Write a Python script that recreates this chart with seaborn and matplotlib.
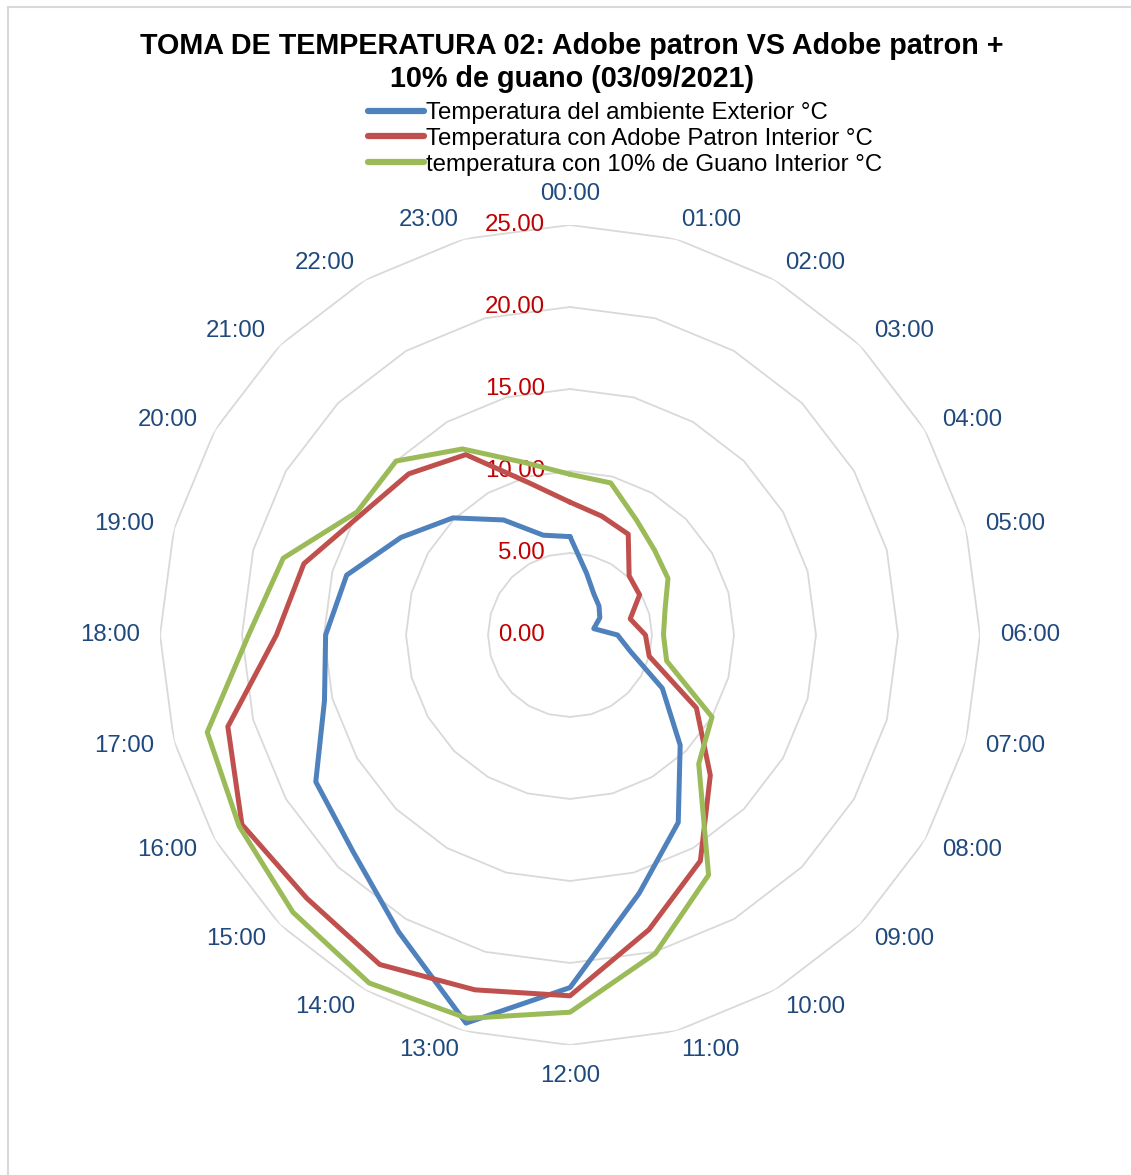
import numpy as np
import pandas as pd
import matplotlib
matplotlib.use("Agg")
import matplotlib.pyplot as plt
import seaborn as sns
from matplotlib.transforms import offset_copy
from matplotlib.lines import Line2D
from matplotlib.patches import Rectangle

# Hourly readings, 00:00 .. 23:00
horas = [f"{h:02d}:00" for h in range(24)]
exterior = [6.0, 3.9, 2.9, 2.5, 2.1, 1.5, 2.9, 3.8, 6.5, 9.5, 13.2, 16.3,
            21.5, 24.5, 20.9, 18.7, 17.9, 15.5, 14.9, 14.1, 11.9, 10.1, 8.1, 6.3]
adobe_patron = [8.1, 7.5, 7.1, 5.1, 4.9, 3.8, 4.6, 5.0, 8.9, 12.1, 15.9, 18.6,
                22.0, 22.4, 23.2, 22.7, 23.1, 21.6, 17.9, 16.8, 14.7, 13.9, 12.7, 9.6]
guano_10 = [9.8, 9.6, 8.1, 7.3, 6.9, 6.0, 5.7, 6.1, 10.0, 11.1, 16.9, 20.1,
            23.0, 24.2, 24.5, 23.9, 23.3, 22.9, 19.6, 18.1, 15.0, 15.0, 13.1, 10.9]

series = ["Temperatura del ambiente Exterior °C",
          "Temperatura con Adobe Patron Interior °C",
          "temperatura con 10% de Guano Interior °C"]
colores = ["#4F81BD", "#C0504D", "#9BBB59"]
niveles = [0, 5, 10, 15, 20, 25]
etiquetas_niveles = ["0.00", "5.00", "10.00", "15.00", "20.00", "25.00"]

titulo = ("TOMA DE TEMPERATURA 02: Adobe patron VS Adobe patron +\n"
          "10% de guano (03/09/2021)")

sns.set_theme(style="white")
plt.rcParams["font.family"] = ["Liberation Sans", "DejaVu Sans"]

W, H = 1131, 1175
fig = plt.figure(figsize=(W / 100, H / 100), dpi=100)
fig.patch.set_facecolor("white")

ax = fig.add_axes([160 / W, 130 / H, 820 / W, 820 / H], projection="polar")
ax.set_theta_zero_location("N")
ax.set_theta_direction(-1)
ax.grid(False)
ax.spines["polar"].set_visible(False)
ax.set_facecolor("white")

angulos = np.arange(len(horas)) * 2 * np.pi / len(horas)
angulos_cerrados = np.append(angulos, 2 * np.pi)

# polygonal value rings
for nivel in niveles[1:]:
    ax.plot(angulos_cerrados, [nivel] * len(angulos_cerrados),
            color="#D9D9D9", lw=1.3, zorder=1)

# long-form table for seaborn, each series closed on itself
filas = []
for nombre, valores in zip(series, [exterior, adobe_patron, guano_10]):
    cerrados = list(valores) + [valores[0]]
    for a, v in zip(angulos_cerrados, cerrados):
        filas.append({"angulo": a, "temperatura": v, "serie": nombre})
df = pd.DataFrame(filas)

sns.lineplot(data=df, x="angulo", y="temperatura", hue="serie",
             hue_order=series, palette=dict(zip(series, colores)),
             sort=False, estimator=None, linewidth=3.6, legend=False,
             ax=ax, zorder=3)

ax.set_ylim(0, 25)
ax.set_xticks([])
ax.set_yticks([])
ax.set_xlabel("")
ax.set_ylabel("")

# hour labels around the outside
r_lab = 25 * 430 / 410
for a, lab in zip(angulos, horas):
    s, c = np.sin(a), np.cos(a)
    ha = "left" if s > 0.01 else ("right" if s < -0.01 else "center")
    va = "bottom" if c > 0.99 else ("top" if c < -0.99 else "center")
    ax.text(a, r_lab, lab, ha=ha, va=va, fontsize=17.3, color="#1F497D",
            clip_on=False)

# value labels along the 00:00 direction
trans = offset_copy(ax.transData, fig=fig, x=-25, y=0, units="dots")
for nivel, lab in zip(niveles, etiquetas_niveles):
    ax.text(0, nivel, lab, transform=trans, ha="right", va="center",
            fontsize=17.3, color="#C00000", zorder=2, clip_on=False)

fig.text(572 / W, 1 - 32 / H, titulo, ha="center", va="top",
         fontsize=20.7, fontweight="bold", linespacing=1.22, color="black")

handles = [Line2D([], [], color=c, lw=4.5) for c in colores]
leg = fig.legend(handles, series, loc="upper left",
                 bbox_to_anchor=(368 / W, 1 - 102 / H), frameon=False,
                 fontsize=17.3, handlelength=2.33, handletextpad=0.08,
                 labelspacing=0.16, borderpad=0, borderaxespad=0)
for t in leg.get_texts():
    t.set_color("black")

# chart area outline
fig.patches.append(Rectangle((8 / W, -0.05), 1.2, 1.05 - 7 / H,
                             transform=fig.transFigure, fill=False,
                             edgecolor="#D9D9D9", lw=1.5))

fig.savefig("out.png", dpi=100)
